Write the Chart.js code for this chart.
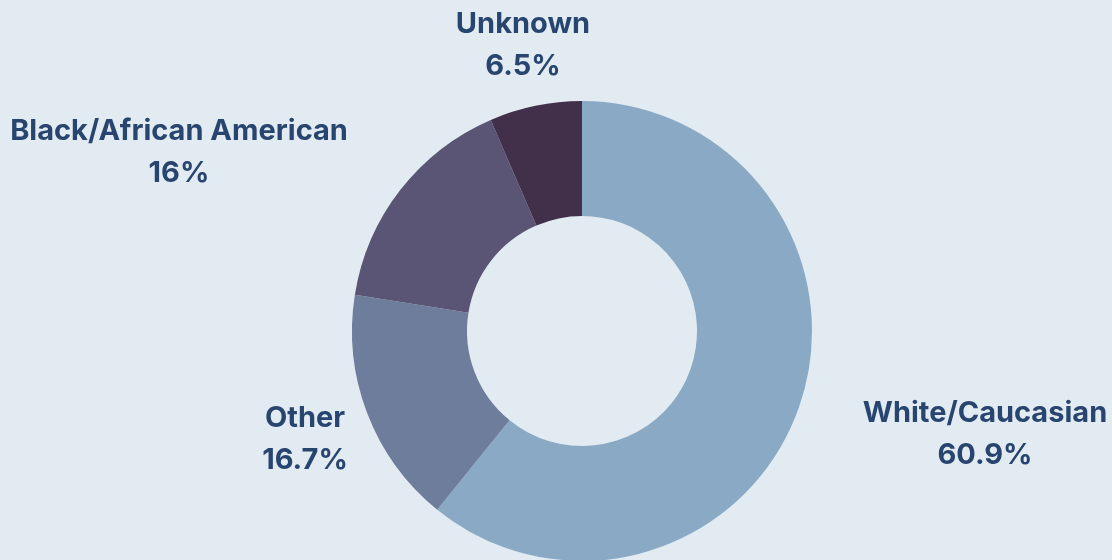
<!DOCTYPE html>
<html>
<head>
<meta charset="utf-8">
<script src="https://cdn.jsdelivr.net/npm/chart.js@4.4.0/dist/chart.umd.min.js"></script>
<style>
  html, body { margin: 0; padding: 0; background: #e2ebf2; overflow: hidden; }
  #wrap { width: 1112px; height: 561px; position: relative; }
</style>
</head>
<body>
<div id="wrap"><canvas id="raceChart"></canvas></div>
<script>
    "use strict";

    // data
    var categories = ["White/Caucasian", "Other", "Black/African American", "Unknown"];
    var shares = [60.9, 16.7, 16, 6.5];
    var sliceColors = ["#89a9c4", "#6f7d9c", "#5a5574", "#42304a"];

    // where each label sits, relative to the doughnut centre
    var labelOffsets = [
        [403, 91],
        [-277, 96],
        [-403, -191],
        [-59, -298]
    ];

    var outsideLabels = {
        id: 'outsideLabels',
        afterDraw: function (chart) {
            var c = chart.ctx;
            var arc = chart.getDatasetMeta(0).data[0];
            var cx = arc.x, cy = arc.y;
            c.save();
            c.fillStyle = "#27456f";
            c.textAlign = "center";
            c.textBaseline = "alphabetic";
            c.font = "700 29px Inter, Roboto, sans-serif";
            chart.data.labels.forEach(function (lab, i) {
                var x = cx + labelOffsets[i][0];
                var y = cy + labelOffsets[i][1];
                c.fillText(lab, x, y);
                c.fillText(chart.data.datasets[0].data[i] + "%", x, y + 42);
            });
            c.restore();
        }
    };

    var ctx = document.getElementById("raceChart");
    var myChart = new Chart(ctx, {
        type: 'doughnut',
        data: {
            labels: categories,
            datasets: [{
                data: shares,
                backgroundColor: sliceColors,
                borderWidth: 0
            }]
        },
        options: {
            responsive: true,
            maintainAspectRatio: false,
            animation: false,
            cutout: '50%',
            layout: { padding: { top: 101, bottom: 0, left: 52, right: 0 } },
            plugins: {
                legend: { display: false },
                tooltip: { enabled: false }
            }
        },
        plugins: [outsideLabels]
    });
</script>
</body>
</html>
